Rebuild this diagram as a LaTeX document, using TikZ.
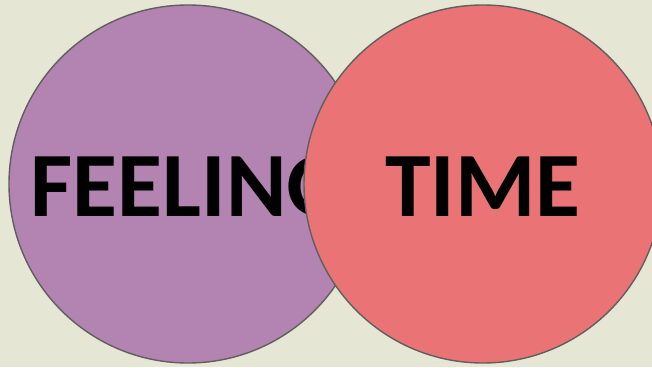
\documentclass[tikz,border=0pt]{standalone}
\usepackage{fontspec}
\setmainfont{Carlito}
\definecolor{bgcol}{HTML}{E5E6D4}
\definecolor{feelcol}{HTML}{B383B1}
\definecolor{timecol}{HTML}{EA7475}
\definecolor{rimcol}{HTML}{5F5F5F}

\begin{document}
\begin{tikzpicture}[x=1pt, y=1pt,
  bubble/.style={circle, draw=rimcol, line width=1.4pt, inner sep=0pt, minimum size=358pt},
  word/.style={inner sep=0pt, font=\fontsize{92}{92}\selectfont\bfseries}]
  % canvas 652 x 367, origin bottom left
  \fill[bgcol] (0,0) rectangle (652,367);
  \clip (0,0) rectangle (652,367);
  % left circle, its word is partly hidden by the right one
  \node[bubble, fill=feelcol] (feeling) at (188,183) {};
  \node[word] (feelingtext) at ([yshift=-3pt]feeling.center) {FEELING};
  \node[bubble, fill=timecol] (time) at (483,183) {};
  \node[word] (timetext) at ([yshift=-3pt]time.center) {TIME};
\end{tikzpicture}
\end{document}
